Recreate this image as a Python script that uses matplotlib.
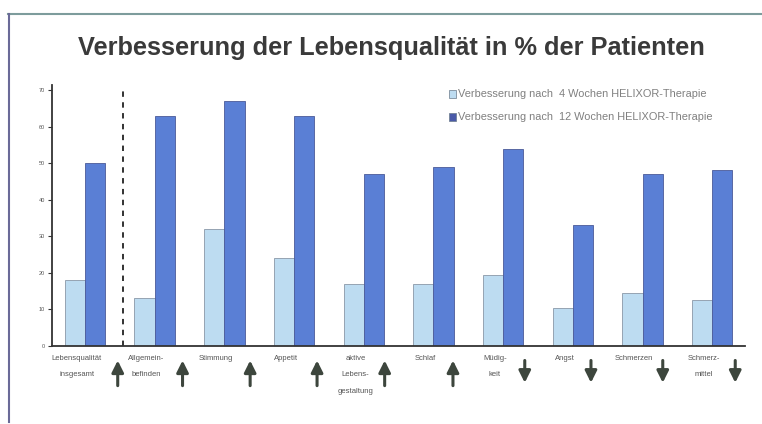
import numpy as np
import matplotlib
matplotlib.use("Agg")
import matplotlib.pyplot as plt
from matplotlib.lines import Line2D
from matplotlib.patches import Rectangle

# Data
categories = ["Lebensqualität\ninsgesamt", "Allgemein-\nbefinden", "Stimmung", "Appetit",
              "aktive\nLebens-\ngestaltung", "Schlaf", "Müdig-\nkeit", "Angst",
              "Schmerzen", "Schmerz-\nmittel"]
week4 = [18, 13, 32, 24, 17, 17, 19.5, 10.5, 14.5, 12.5]
week12 = [50, 63, 67, 63, 47, 49, 54, 33, 47, 48]
direction = ["up", "up", "up", "up", "up", "up", "down", "down", "down", "down"]
yticks = [0, 10, 20, 30, 40, 50, 60, 70]
legend_labels = ["Verbesserung nach  4 Wochen HELIXOR-Therapie",
                 "Verbesserung nach  12 Wochen HELIXOR-Therapie"]

light = "#bddcf1"
dark = "#5a7fd5"

plt.rcParams["font.family"] = ["Liberation Sans", "DejaVu Sans"]

fig = plt.figure(figsize=(7.62, 4.24), dpi=100)
ax = fig.add_axes([52 / 762, 78 / 424, 693 / 762, 261.5 / 424])

x = np.arange(len(categories))
w = 0.29
ax.bar(x - w / 2, week4, width=w, color=light, edgecolor="#8a98a8", linewidth=0.6)
ax.bar(x + w / 2, week12, width=w, color=dark, edgecolor="#4a5a98", linewidth=0.6)

ax.set_xlim(-0.473, 9.47)
ax.set_ylim(0, 71.5)
ax.set_xticks([])
ax.set_yticks(yticks)
ax.set_yticklabels([str(t) for t in yticks], fontsize=4, color="#555555")
ax.tick_params(axis="y", length=3, width=0.8, color="#333333", pad=2)
for s in ["top", "right"]:
    ax.spines[s].set_visible(False)
ax.spines["left"].set_linewidth(1.3)
ax.spines["left"].set_color("#333333")
ax.spines["bottom"].set_linewidth(1.3)
ax.spines["bottom"].set_color("#333333")

# dashed separator after the first group
ax.axvline(0.545, ymin=0, ymax=0.98, color="#222222", linestyle=(0, (3, 3)), linewidth=1.3)

# category labels and arrows below the axis
arrow_x = [0.47, 1.4, 2.37, 3.33, 4.3, 5.28, 6.31, 7.26, 8.29, 9.33]
for i, lab in enumerate(categories):
    ax.text(i - 0.12, -2.4, lab, ha="center", va="top", fontsize=5.5, color="#555555",
            linespacing=2.9, clip_on=False)
    ax_ = arrow_x[i]
    if direction[i] == "up":
        ax.annotate("", xy=(ax_, -3.2), xytext=(ax_, -11.6), annotation_clip=False,
                    arrowprops=dict(arrowstyle="-|>,head_width=0.35,head_length=0.7",
                                    color="#3d463d", linewidth=2.2))
    else:
        ax.annotate("", xy=(ax_, -10.8), xytext=(ax_, -3.2), annotation_clip=False,
                    arrowprops=dict(arrowstyle="-|>,head_width=0.35,head_length=0.7",
                                    color="#3d463d", linewidth=2.2))

# legend
for k, (lab, col) in enumerate(zip(legend_labels, [light, "#4a5aa8"])):
    y = 1 - (94 + k * 23) / 424
    fig.patches.append(Rectangle((449 / 762, y - 0.01), 7 / 762, 8 / 424, transform=fig.transFigure,
                                 facecolor=col, edgecolor="#6a7a8a", linewidth=0.5))
    fig.text(458 / 762, y - 0.001, lab, fontsize=7.9, color="#808080", va="center", ha="left")

# title
fig.text(0.514, 1 - 48 / 424, "Verbesserung der Lebensqualität in % der Patienten",
         ha="center", va="center", fontsize=18.3, fontweight="bold", color="#3a3a3a")

# frame
fig.lines.append(Line2D([8 / 762, 1], [1 - 14 / 424, 1 - 14 / 424], transform=fig.transFigure,
                        color="#7d9c9c", linewidth=1.5))
fig.lines.append(Line2D([9 / 762, 9 / 762], [1 - 14 / 424, 1 - 422 / 424], transform=fig.transFigure,
                        color="#6a6a98", linewidth=1.5))

fig.savefig("out.png", dpi=100)
